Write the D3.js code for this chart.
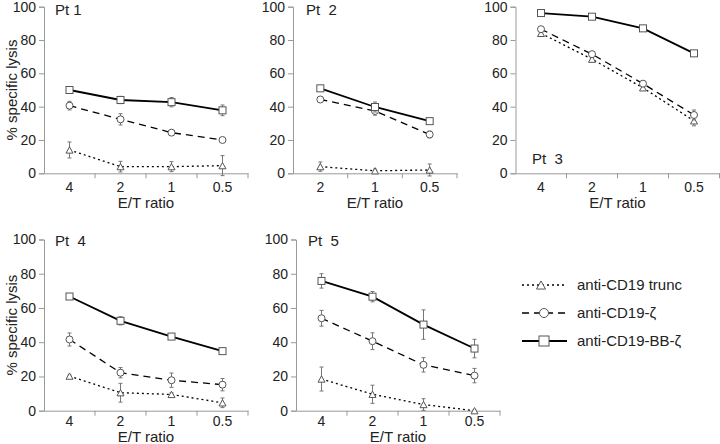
<!DOCTYPE html>
<html>
<head>
<meta charset="utf-8">
<script src="https://cdn.jsdelivr.net/npm/d3@7"></script>
<style>
  body { margin: 0; background: #fff; }
  text { font-family: Arial, "Liberation Sans", sans-serif; fill: #222; }
</style>
</head>
<body>
<div id="chart"></div>
<script>
// E/T ratio categories
const ratios4 = ["4", "2", "1", "0.5"];
const ratios3 = ["2", "1", "0.5"];
const yTicks = [0, 20, 40, 60, 80, 100];

const seriesNames = ["anti-CD19 trunc", "anti-CD19-\u03b6", "anti-CD19-BB-\u03b6"];

// % specific lysis, mean and +/- error, per patient
const pt1Trunc = [14, 4, 4, 4.6],        pt1TruncErr = [4.8, 3.2, 3, 6];
const pt1Zeta  = [40.6, 32.4, 24.4, 20],  pt1ZetaErr  = [2.6, 3.4, 1, 0.8];
const pt1BB    = [50, 44, 42.7, 37.8],    pt1BBErr    = [1, 2.2, 2.8, 3.2];

const pt2Trunc = [4, 1.5, 2],             pt2TruncErr = [2.8, 1, 3.6];
const pt2Zeta  = [44.3, 37.4, 23.3],      pt2ZetaErr  = [1, 2.5, 2];
const pt2BB    = [51, 39.8, 31.3],        pt2BBErr    = [1, 3, 1];

const pt3Trunc = [84, 68.5, 51.3, 31.5],  pt3TruncErr = [1, 1.5, 1.5, 3];
const pt3Zeta  = [86.5, 71.5, 53.8, 35],  pt3ZetaErr  = [1, 1.5, 1.5, 3];
const pt3BB    = [96.2, 94, 87, 72],      pt3BBErr    = [0.6, 0.6, 0.8, 0.8];

const pt4Trunc = [20.2, 10.5, 9.5, 4.6],  pt4TruncErr = [0.6, 5.5, 1, 2.8];
const pt4Zeta  = [41.6, 22.2, 17.8, 15.2],pt4ZetaErr  = [3.8, 3, 4.2, 3.6];
const pt4BB    = [66.7, 52.5, 43.3, 34.8],pt4BBErr    = [1, 2.4, 1.4, 1];

const pt5Trunc = [18.5, 9.6, 3.6, 0],     pt5TruncErr = [7, 5.3, 3.4, 0.4];
const pt5Zeta  = [54, 40.6, 26.8, 20.5],  pt5ZetaErr  = [4.6, 4.9, 4.2, 4.2];
const pt5BB    = [75.8, 66.6, 50.3, 36.3],pt5BBErr    = [4.2, 3, 8.6, 5.4];

const W = 720, H = 444;

const svg = d3.select("#chart").append("svg")
    .attr("width", W)
    .attr("height", H);

// trunc dotted, zeta dashed, BB solid
const styles = [
  { dash: "2,3", width: 1.3, marker: "triangle" },
  { dash: "7,5", width: 1.3, marker: "circle" },
  { dash: null,  width: 1.8, marker: "square" }
];

function drawMarker(g, type, x, y, s) {
  if (type == "square") {
    g.append("rect")
      .attr("x", x - s / 2).attr("y", y - s / 2)
      .attr("width", s).attr("height", s)
      .attr("fill", "#fff").attr("stroke", "#555").attr("stroke-width", 1);
  } else if (type == "circle") {
    g.append("circle")
      .attr("cx", x).attr("cy", y).attr("r", s / 2)
      .attr("fill", "#fff").attr("stroke", "#555").attr("stroke-width", 1);
  } else {
    let h = s * 0.9;
    g.append("path")
      .attr("d", "M" + x + "," + (y - h / 2) + "L" + (x + s / 2) + "," + (y + h / 2) + "L" + (x - s / 2) + "," + (y + h / 2) + "Z")
      .attr("fill", "#fff").attr("stroke", "#555").attr("stroke-width", 1);
  }
}

function panel(opt) {
  let xScale = d3.scaleBand()
      .domain(opt.cats)
      .range([opt.x0, opt.x1]);

  let yScale = d3.scaleLinear()
      .domain([0, 100])
      .range([opt.y0, opt.y1]);

  let g = svg.append("g");

  // y axis
  let yAxis = g.append("g")
      .attr("transform", "translate(" + opt.x0 + ",0)")
      .call(d3.axisLeft(yScale).tickValues(yTicks).tickSize(5).tickPadding(3));
  yAxis.selectAll("text").style("font-size", "14px").attr("fill", "#222");

  // x axis, ticks between categories
  let xAxis = g.append("g")
      .attr("transform", "translate(0," + opt.y0 + ")")
      .call(d3.axisBottom(xScale).tickSize(0).tickPadding(opt.labelPad));
  xAxis.selectAll("text").style("font-size", "14px").attr("fill", "#222");
  xAxis.selectAll(".tick")
      .append("line")
      .attr("x1", xScale.bandwidth() / 2).attr("x2", xScale.bandwidth() / 2)
      .attr("y1", 0).attr("y2", 5)
      .attr("stroke", "#999");

  g.selectAll(".domain").attr("stroke", "#999");
  yAxis.selectAll(".tick line").attr("stroke", "#999");

  g.append("text")
      .attr("x", (opt.x0 + opt.x1) / 2)
      .attr("y", opt.y0 + opt.titlePad)
      .attr("text-anchor", "middle")
      .style("font-size", "15px")
      .text("E/T ratio");

  if (opt.yLabel) {
    g.append("text")
      .attr("transform", "translate(17," + (opt.y0 + opt.y1) / 2 + ") rotate(-90)")
      .attr("text-anchor", "middle")
      .style("font-size", "15px")
      .text("% specific lysis");
  }

  g.append("text")
      .attr("x", opt.ptX).attr("y", opt.ptY)
      .style("font-size", "15px")
      .style("white-space", "pre")
      .text(opt.name);

  let cx = function(i) { return xScale(opt.cats[i]) + xScale.bandwidth() / 2; };

  opt.series.forEach(function(s, k) {
    let st = styles[k];
    let line = d3.line()
        .x(function(d, i) { return cx(i); })
        .y(function(d) { return yScale(d); });

    g.append("path")
        .attr("fill", "none")
        .attr("stroke", "#000")
        .attr("stroke-width", st.width)
        .attr("stroke-dasharray", st.dash)
        .attr("d", line(s.vals));
  });

  opt.series.forEach(function(s, k) {
    let st = styles[k];
    s.vals.forEach(function(v, i) {
      let e = s.err[i];
      g.append("line")
        .attr("x1", cx(i)).attr("x2", cx(i))
        .attr("y1", yScale(v - e)).attr("y2", yScale(v + e))
        .attr("stroke", "#777").attr("stroke-width", 1);
      [v - e, v + e].forEach(function(b) {
        g.append("line")
          .attr("x1", cx(i) - 2).attr("x2", cx(i) + 2)
          .attr("y1", yScale(b)).attr("y2", yScale(b))
          .attr("stroke", "#777").attr("stroke-width", 1);
      });
      drawMarker(g, st.marker, cx(i), yScale(v), 7);
    });
  });
}

let top0 = 173.3, top1 = 6.7, bot0 = 410.7, bot1 = 239.5;

panel({ cats: ratios4, x0: 44, x1: 248, y0: top0, y1: top1, labelPad: 9, titlePad: 35,
        yLabel: true, name: "Pt 1", ptX: 55, ptY: 15,
        series: [{ vals: pt1Trunc, err: pt1TruncErr }, { vals: pt1Zeta, err: pt1ZetaErr }, { vals: pt1BB, err: pt1BBErr }] });

panel({ cats: ratios3, x0: 293, x1: 457, y0: top0, y1: top1, labelPad: 9, titlePad: 35,
        yLabel: false, name: "Pt  2", ptX: 306, ptY: 15,
        series: [{ vals: pt2Trunc, err: pt2TruncErr }, { vals: pt2Zeta, err: pt2ZetaErr }, { vals: pt2BB, err: pt2BBErr }] });

panel({ cats: ratios4, x0: 515.5, x1: 719.5, y0: top0, y1: top1, labelPad: 9, titlePad: 35,
        yLabel: false, name: "Pt  3", ptX: 532, ptY: 164,
        series: [{ vals: pt3Trunc, err: pt3TruncErr }, { vals: pt3Zeta, err: pt3ZetaErr }, { vals: pt3BB, err: pt3BBErr }] });

panel({ cats: ratios4, x0: 44, x1: 248, y0: bot0, y1: bot1, labelPad: 5, titlePad: 31,
        yLabel: true, name: "Pt  4", ptX: 55, ptY: 246,
        series: [{ vals: pt4Trunc, err: pt4TruncErr }, { vals: pt4Zeta, err: pt4ZetaErr }, { vals: pt4BB, err: pt4BBErr }] });

panel({ cats: ratios4, x0: 296, x1: 500, y0: bot0, y1: bot1, labelPad: 5, titlePad: 31,
        yLabel: false, name: "Pt  5", ptX: 308, ptY: 246,
        series: [{ vals: pt5Trunc, err: pt5TruncErr }, { vals: pt5Zeta, err: pt5ZetaErr }, { vals: pt5BB, err: pt5BBErr }] });

// legend
let legend = svg.append("g");
let legendY = d3.scalePoint().domain(seriesNames).range([285, 341]);
seriesNames.forEach(function(name, k) {
  let st = styles[k];
  let y = legendY(name);
  legend.append("line")
    .attr("x1", 522).attr("x2", 567)
    .attr("y1", y).attr("y2", y)
    .attr("stroke", "#000")
    .attr("stroke-width", st.width)
    .attr("stroke-dasharray", st.dash);
  drawMarker(legend, st.marker, k == 0 ? 541 : 544, y, k == 2 ? 10 : 9);
  legend.append("text")
    .attr("x", 577).attr("y", y + 5)
    .style("font-size", "15px")
    .text(name);
});
</script>
</body>
</html>
